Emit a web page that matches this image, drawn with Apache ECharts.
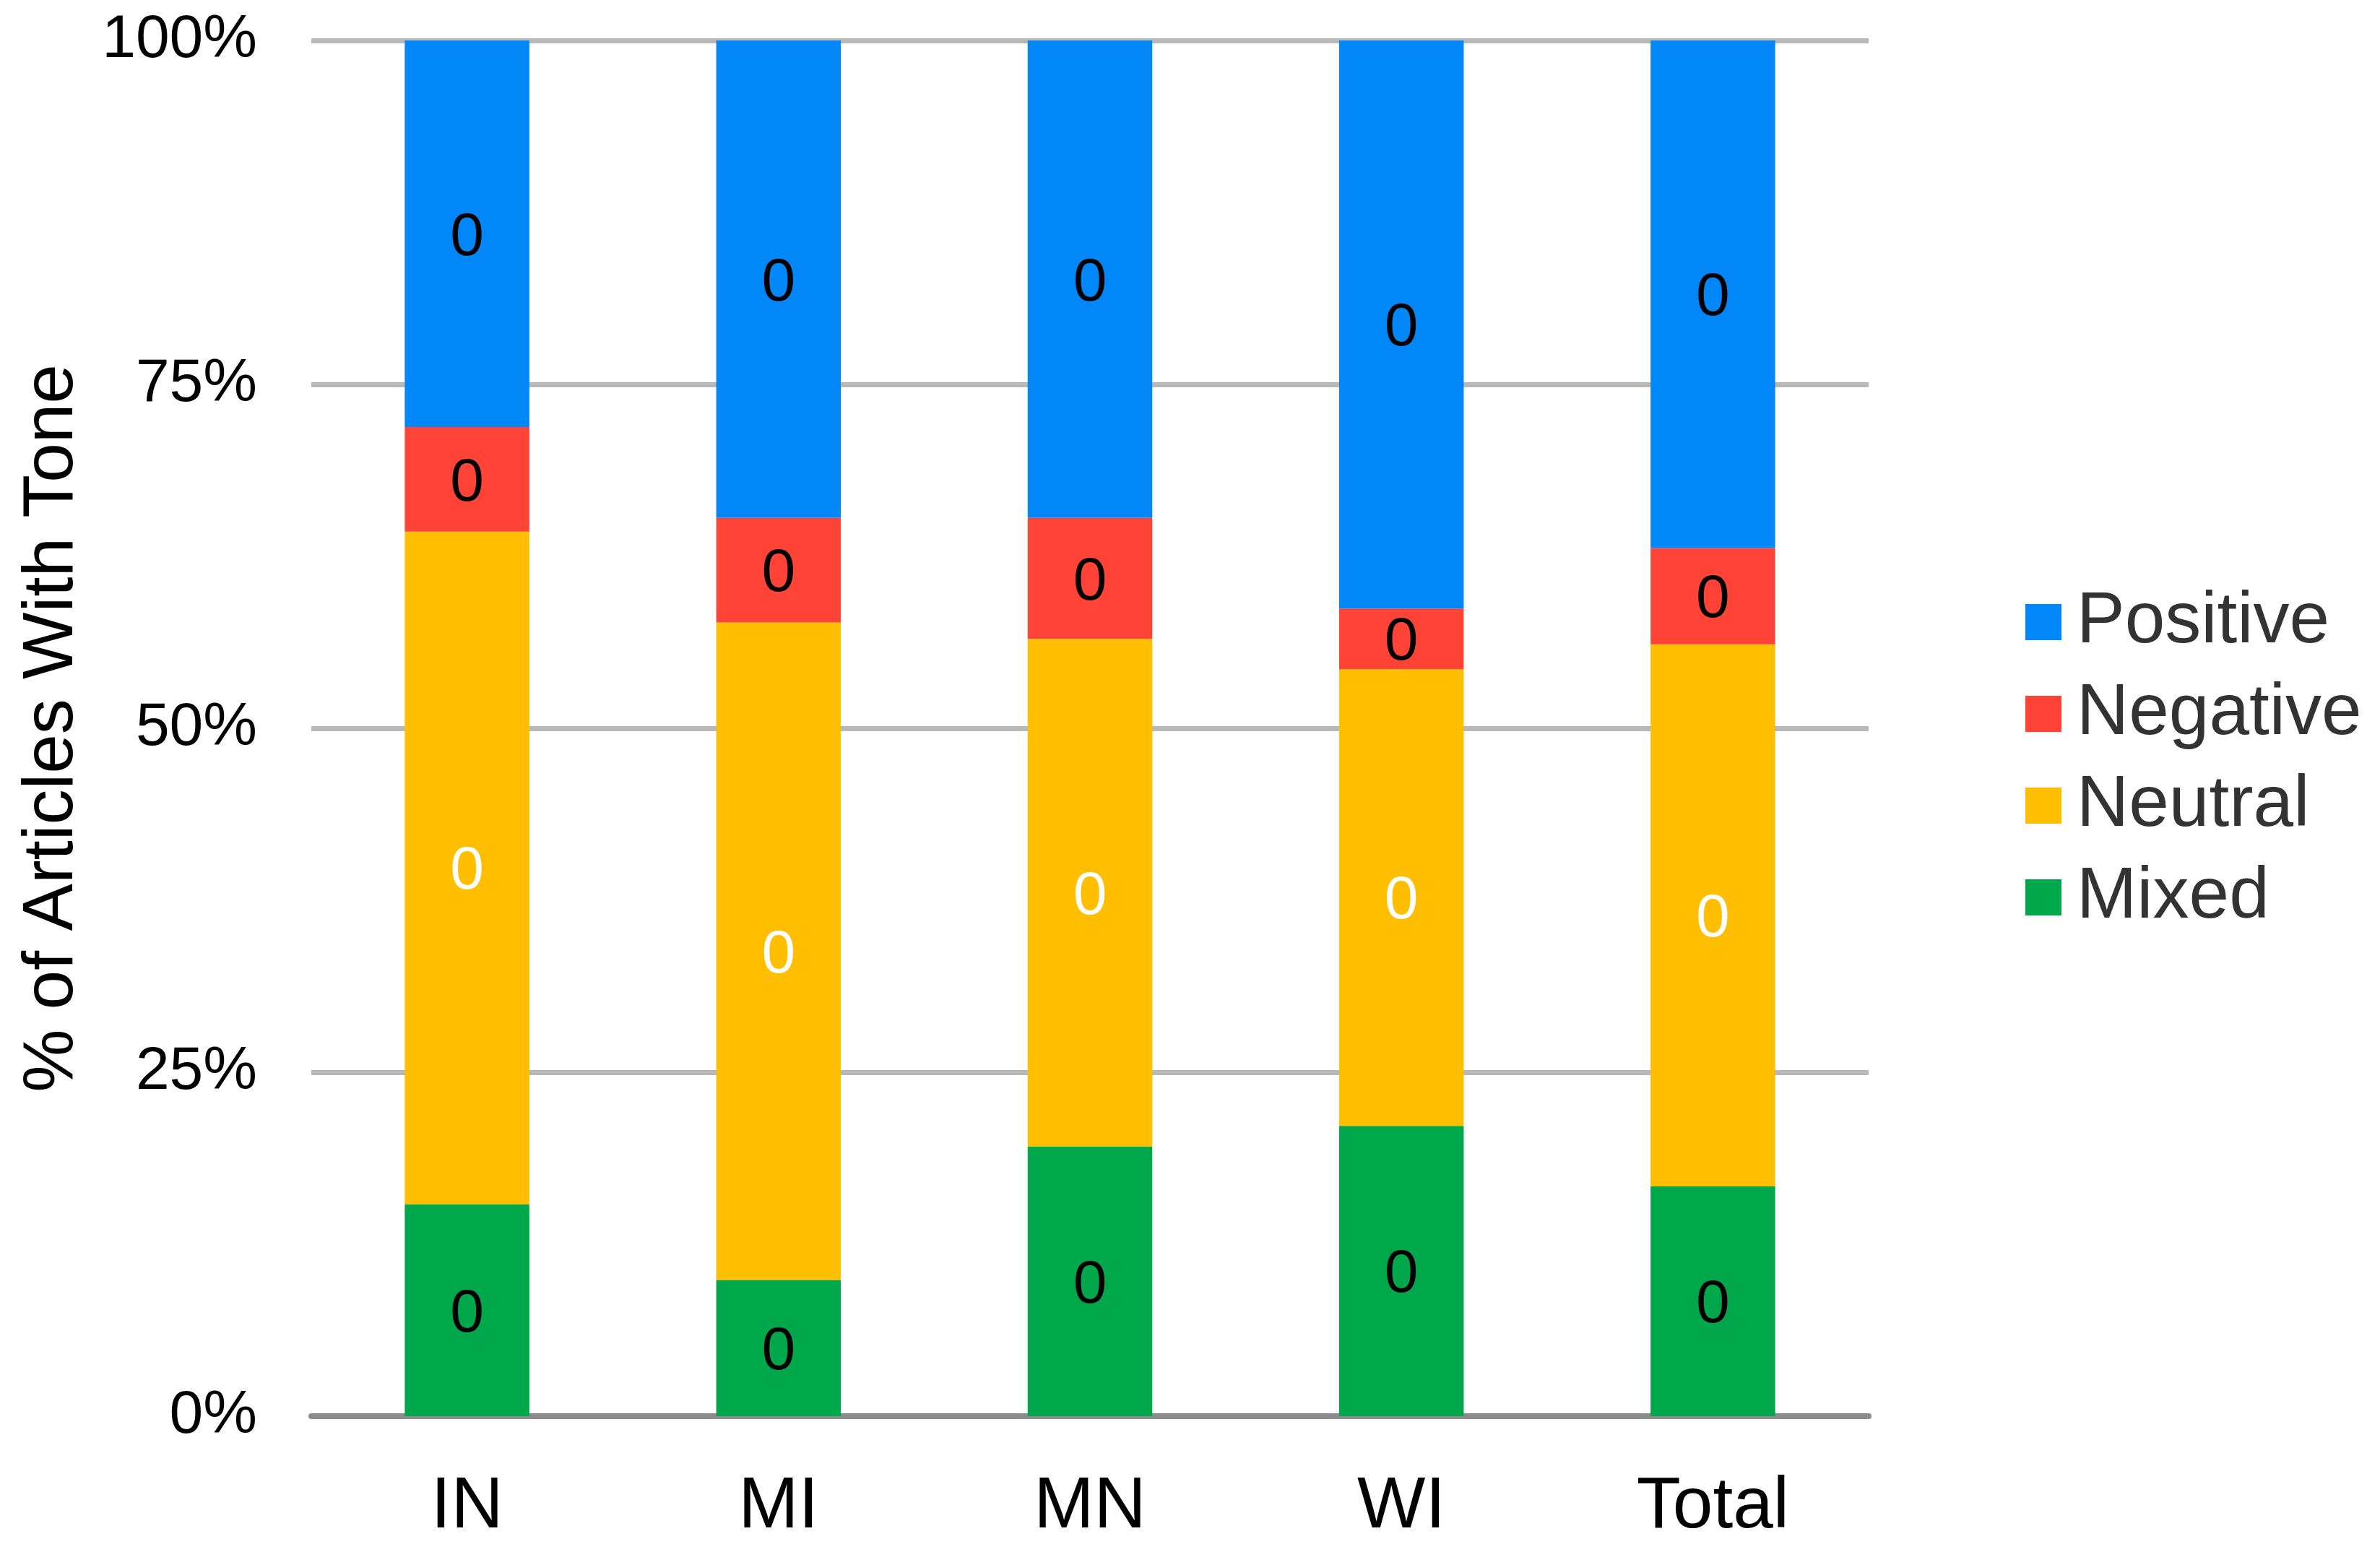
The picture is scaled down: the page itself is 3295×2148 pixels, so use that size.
<!DOCTYPE html>
<html>
<head>
<meta charset="utf-8">
<script src="https://cdn.jsdelivr.net/npm/echarts@6/dist/echarts.min.js"></script>
<style>
html,body{margin:0;padding:0;background:#fff;}
#chart{width:3295px;height:2148px;}
</style>
</head>
<body>
<div id="chart"></div>
<script>
const categories = ['IN', 'MI', 'MN', 'WI', 'Total'];
const mixed    = [15.4, 9.9, 19.6, 21.1, 16.7];
const neutral  = [48.9, 47.8, 36.9, 33.2, 39.4];
const negative = [7.6, 7.6, 8.8, 4.4, 7.0];
const positive = [28.1, 34.7, 34.7, 41.3, 36.9];
const segmentLabel = '0';
const yTicks = [0, 25, 50, 75, 100];

const FONT = 'Liberation Sans, Arial, Helvetica, sans-serif';
const chart = echarts.init(document.getElementById('chart'));

function barSeries(name, data, color, labelColor) {
  return {
    name: name,
    type: 'bar',
    stack: 'tone',
    data: data,
    barWidth: '40%',
    itemStyle: { color: color },
    label: {
      show: true,
      position: 'inside',
      offset: [0, 6],
      formatter: () => segmentLabel,
      color: labelColor,
      fontFamily: FONT,
      fontSize: 84
    },
    emphasis: { disabled: true }
  };
}

chart.setOption({
  animation: false,
  backgroundColor: '#ffffff',
  grid: { left: 431, right: 708, top: 56, bottom: 188, containLabel: false },
  legend: {
    orient: 'vertical',
    left: 2799,
    top: 806,
    itemWidth: 50,
    itemHeight: 50,
    itemGap: 27,
    icon: 'rect',
    data: ['Positive', 'Negative', 'Neutral', 'Mixed'],
    textStyle: { fontFamily: FONT, fontSize: 100, color: '#333333', padding: [0, 0, 0, 16] }
  },
  xAxis: {
    type: 'category',
    data: categories,
    axisTick: { show: false },
    axisLine: { lineStyle: { color: '#8c8c8c', width: 8 } },
    axisLabel: { fontFamily: FONT, fontSize: 100, color: '#000', margin: 76 }
  },
  yAxis: {
    type: 'value',
    min: yTicks[0],
    max: yTicks[yTicks.length - 1],
    interval: 25,
    name: '% of Articles With Tone',
    nameLocation: 'middle',
    nameRotate: 90,
    nameGap: 309,
    nameTextStyle: { fontFamily: FONT, fontSize: 98, color: '#000' },
    axisLine: { show: false },
    axisTick: { show: false },
    splitLine: { lineStyle: { color: '#b8b8b8', width: 7 } },
    axisLabel: { fontFamily: FONT, fontSize: 84, color: '#000', margin: 75, formatter: '{value}%' }
  },
  series: [
    barSeries('Mixed', mixed, '#00a84b', '#000'),
    barSeries('Neutral', neutral, '#ffbe00', '#fff'),
    barSeries('Negative', negative, '#ff4336', '#000'),
    barSeries('Positive', positive, '#0287f8', '#000')
  ]
});
</script>
</body>
</html>
